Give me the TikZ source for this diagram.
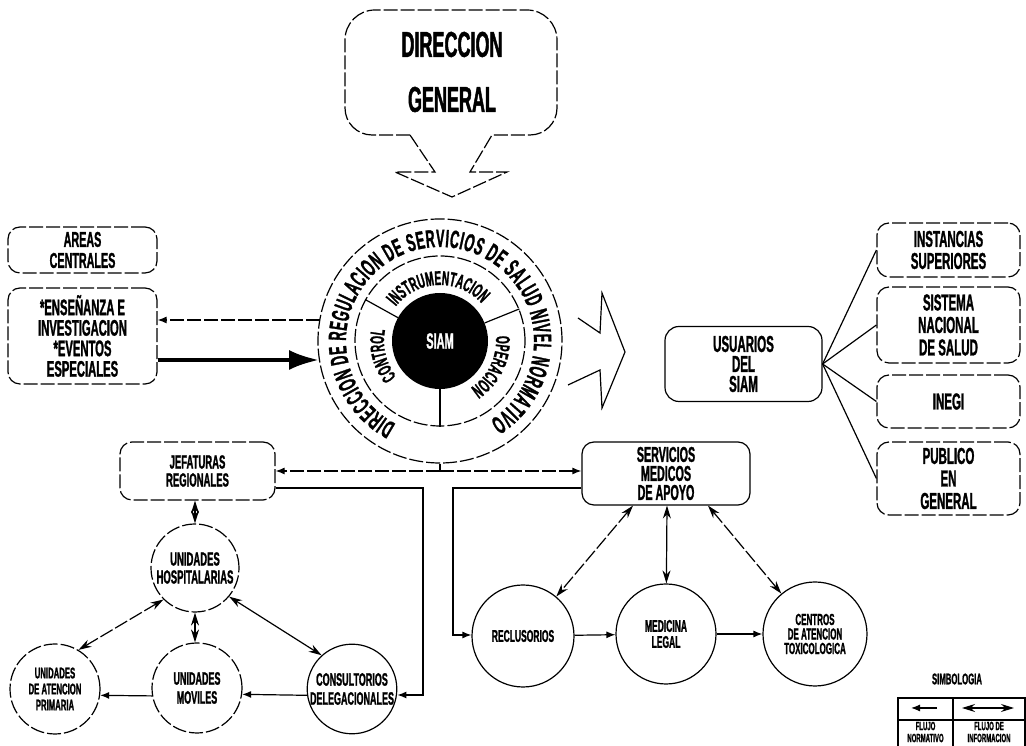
\documentclass[tikz,border=0pt]{standalone}
\usepackage{fontspec}
\newfontfamily\cond{Liberation Sans}[FakeStretch=0.5, BoldFeatures={FakeBold=1.2}]
\usetikzlibrary{arrows.meta,decorations.text,calc}
\begin{document}
\begin{tikzpicture}[x=1pt,y=1pt,
  f/.style 2 args={font=\cond\bfseries\fontsize{#1}{#2}\selectfont},
  rough/.style={dash pattern=on 14pt off 3pt},
  lw/.style={line width=1.2pt},
  box/.style={draw, lw, rounded corners=12pt, align=center, inner sep=0pt},
  circ/.style={draw, lw, circle, align=center, inner sep=0pt},
  norm/.style={lw, -{Latex[length=9pt,width=7pt]}},
  info/.style={lw, {Stealth[length=13pt,width=8pt]}-{Stealth[length=13pt,width=8pt]}},
]
\useasboundingbox (0,0) rectangle (1026,746);

% ---- Direccion General callout
\draw[lw, rough] (410,611) -- (372,611) arc[start angle=270,end angle=180,radius=27]
  -- (345,706) arc[start angle=180,end angle=90,radius=30]
  -- (527,736) arc[start angle=90,end angle=0,radius=30]
  -- (557,638) arc[start angle=0,end angle=-90,radius=27]
  -- (492,611) -- (470,574) -- (507,574) -- (452,549) -- (395,574) -- (435,574) -- cycle;
\node[align=center, f={36}{55}] (dg) at (452,674) {DIRECCION\\GENERAL};

% ---- central circles
\coordinate (C) at (440,405);
\node[circ, rough, minimum size=244pt] (outer) at (C) {};
\node[circ, rough, minimum size=170pt] (ring) at (C) {};
\node[circle, fill=black, minimum size=96pt, inner sep=0pt, text=white, f={22}{22}] (siam) at (C) {SIAM};
\draw[lw] (siam.151) -- (ring.151);
\draw[lw] (siam.22) -- (ring.22);
\draw[lw] (siam.270) -- (ring.270);

\path[decorate, decoration={text along path, text align=fit to path,
  text={|\cond\bfseries\fontsize{25}{25}\selectfont|DIRECCION DE REGULACION DE SERVICIOS DE SALUD NIVEL NORMATIVO}}]
  ($(C)+(242:94)$) arc[start angle=242, end angle=-58, radius=94];
\path[decorate, decoration={text along path, text align=center,
  text={|\cond\bfseries\fontsize{20}{20}\selectfont|INSTRUMENTACION}}]
  ($(C)+(146:56)$) arc[start angle=146, end angle=38, radius=56];
\path[decorate, decoration={text along path, text align=center,
  text={|\cond\bfseries\fontsize{20}{20}\selectfont|OPERACION}}]
  ($(C)+(8:56)$) arc[start angle=8, end angle=-60, radius=56];
\path[decorate, decoration={text along path, text align=center,
  text={|\cond\bfseries\fontsize{20}{20}\selectfont|CONTROL}}]
  ($(C)+(224:56)$) arc[start angle=224, end angle=164, radius=56];

% big hollow arrow to the right
\draw[lw] (578,428) -- (600,413) -- (602,453) -- (625,394) -- (602,338) -- (600,376) -- (568,361);

% ---- left boxes
\node[box, rough, minimum width=149pt, minimum height=46pt, f={21.5}{21}] (areas) at (82.5,496) {AREAS\\CENTRALES};
\node[box, rough, minimum width=149pt, minimum height=96pt, f={22.5}{20.5}] (ens) at (82.5,410) {*ENSEÑANZA E\\INVESTIGACION\\*EVENTOS\\ESPECIALES};
\coordinate (o1) at (319,386);
\draw[line width=4pt, -{Latex[length=30pt,width=20pt]}] (ens.east |- o1) -- (o1);
\coordinate (o2) at (320,426);
\draw[norm, rough] (o2) -- (ens.east |- o2);

% ---- users
\node[box, minimum width=157pt, minimum height=75pt, rounded corners=14pt, f={23}{20}] (usu) at (743.5,382) {USUARIOS\\DEL\\SIAM};
\node[box, rough, minimum width=143pt, minimum height=54pt, f={23}{22}] (inst) at (948.5,496) {INSTANCIAS\\SUPERIORES};
\node[box, rough, minimum width=143pt, minimum height=76pt, f={23}{22.5}] (sns) at (948.5,421) {SISTEMA\\NACIONAL\\DE SALUD};
\node[box, rough, minimum width=143pt, minimum height=53pt, f={23}{22}] (inegi) at (948.5,344.5) {INEGI};
\node[box, rough, minimum width=143pt, minimum height=73pt, f={23}{22.5}] (pub) at (948.5,267.5) {PUBLICO\\EN\\GENERAL};
\draw[lw] (usu.east) -- (inst.west);
\draw[lw] (usu.east) -- (sns.west);
\draw[lw] (usu.east) -- (inegi.west);
\draw[lw] (usu.east) -- (pub.west);

% ---- middle boxes
\node[box, rough, minimum width=155pt, minimum height=58pt, f={19}{18}] (jef) at (197.5,275) {JEFATURAS\\REGIONALES};
\node[box, minimum width=168pt, minimum height=63pt, f={21.5}{19}] (serv) at (666,272.5) {SERVICIOS\\MEDICOS\\DE APOYO};
\coordinate (tick) at (440,275);
\draw[lw] (outer.south) -- (tick);
\draw[norm, rough] (tick) -- (jef.east |- tick);
\draw[norm, rough] (tick) -- (serv.west |- tick);

% ---- right circles
\node[circ, minimum size=102pt, f={17}{15}] (recl) at (523,110) {RECLUSORIOS};
\node[circ, minimum size=100pt, f={17}{16}] (med) at (666,112) {MEDICINA\\LEGAL};
\node[circ, minimum size=104pt, f={16}{14.5}] (cen) at (815,112) {CENTROS\\DE ATENCION\\TOXICOLOGICA};
\coordinate (s1) at (453,258);
\coordinate (s2) at (453,111);
\draw[norm] (serv.west |- s1) -- (s1) -- (s2) -- (s2 -| recl.west);
\draw[norm] (recl) -- (med);
\draw[norm] (med) -- (cen);
\draw[info, rough] ([xshift=-33pt]serv.south) -- (recl);
\draw[info] ([xshift=1pt]serv.south) -- (med);
\draw[info, rough] ([xshift=42pt]serv.south) -- (cen);

% ---- left circles
\node[circ, rough, minimum size=88pt, f={19}{18}] (hosp) at (195,178) {UNIDADES\\HOSPITALARIAS};
\node[circ, rough, minimum size=90pt, f={15.5}{16}] (prim) at (55,57) {UNIDADES\\DE ATENCION\\PRIMARIA};
\node[circ, rough, minimum size=90pt, f={18}{19}] (mov) at (197,58) {UNIDADES\\MOVILES};
\node[circ, minimum size=88pt, f={18}{19}] (cons) at (352,57) {CONSULTORIOS\\DELEGACIONALES};
\coordinate (j1) at (423,258);
\coordinate (j2) at (423,51);
\draw[norm] (jef.east |- j1) -- (j1) -- (j2) -- (cons.east |- j2);
\draw[info, rough] (jef.south -| hosp) -- (hosp);
\draw[info, rough] (hosp.225) -- (prim.59);
\draw[info, rough] (hosp.south) -- (hosp.south |- mov.north);
\draw[info] (hosp.-40) -- (cons.132);
\draw[norm] (cons.188) -- (mov.352);
\draw[norm] (mov.190) -- (prim.352);

% ---- legend
\node[f={15.5}{14}] (simb) at (957,67) {SIMBOLOGIA};
\draw[lw] (898,0) -- (898,48) -- (1025,48) -- (1025,0);
\draw[lw] (898,26) -- (1025,26);
\draw[lw] (953,0) -- (953,48);
\coordinate (la1) at (937,38);
\coordinate (la2) at (911,38);
\draw[norm] (la1) -- (la2);
\coordinate (lb1) at (962,38);
\coordinate (lb2) at (1014,38);
\draw[info] (lb1) -- (lb2);
\node[align=center, f={12}{12}] (fn) at (925.5,14) {FLUJO\\NORMATIVO};
\node[align=center, f={12}{12}] (fi) at (989,14) {FLUJO DE\\INFORMACION};
\end{tikzpicture}
\end{document}
